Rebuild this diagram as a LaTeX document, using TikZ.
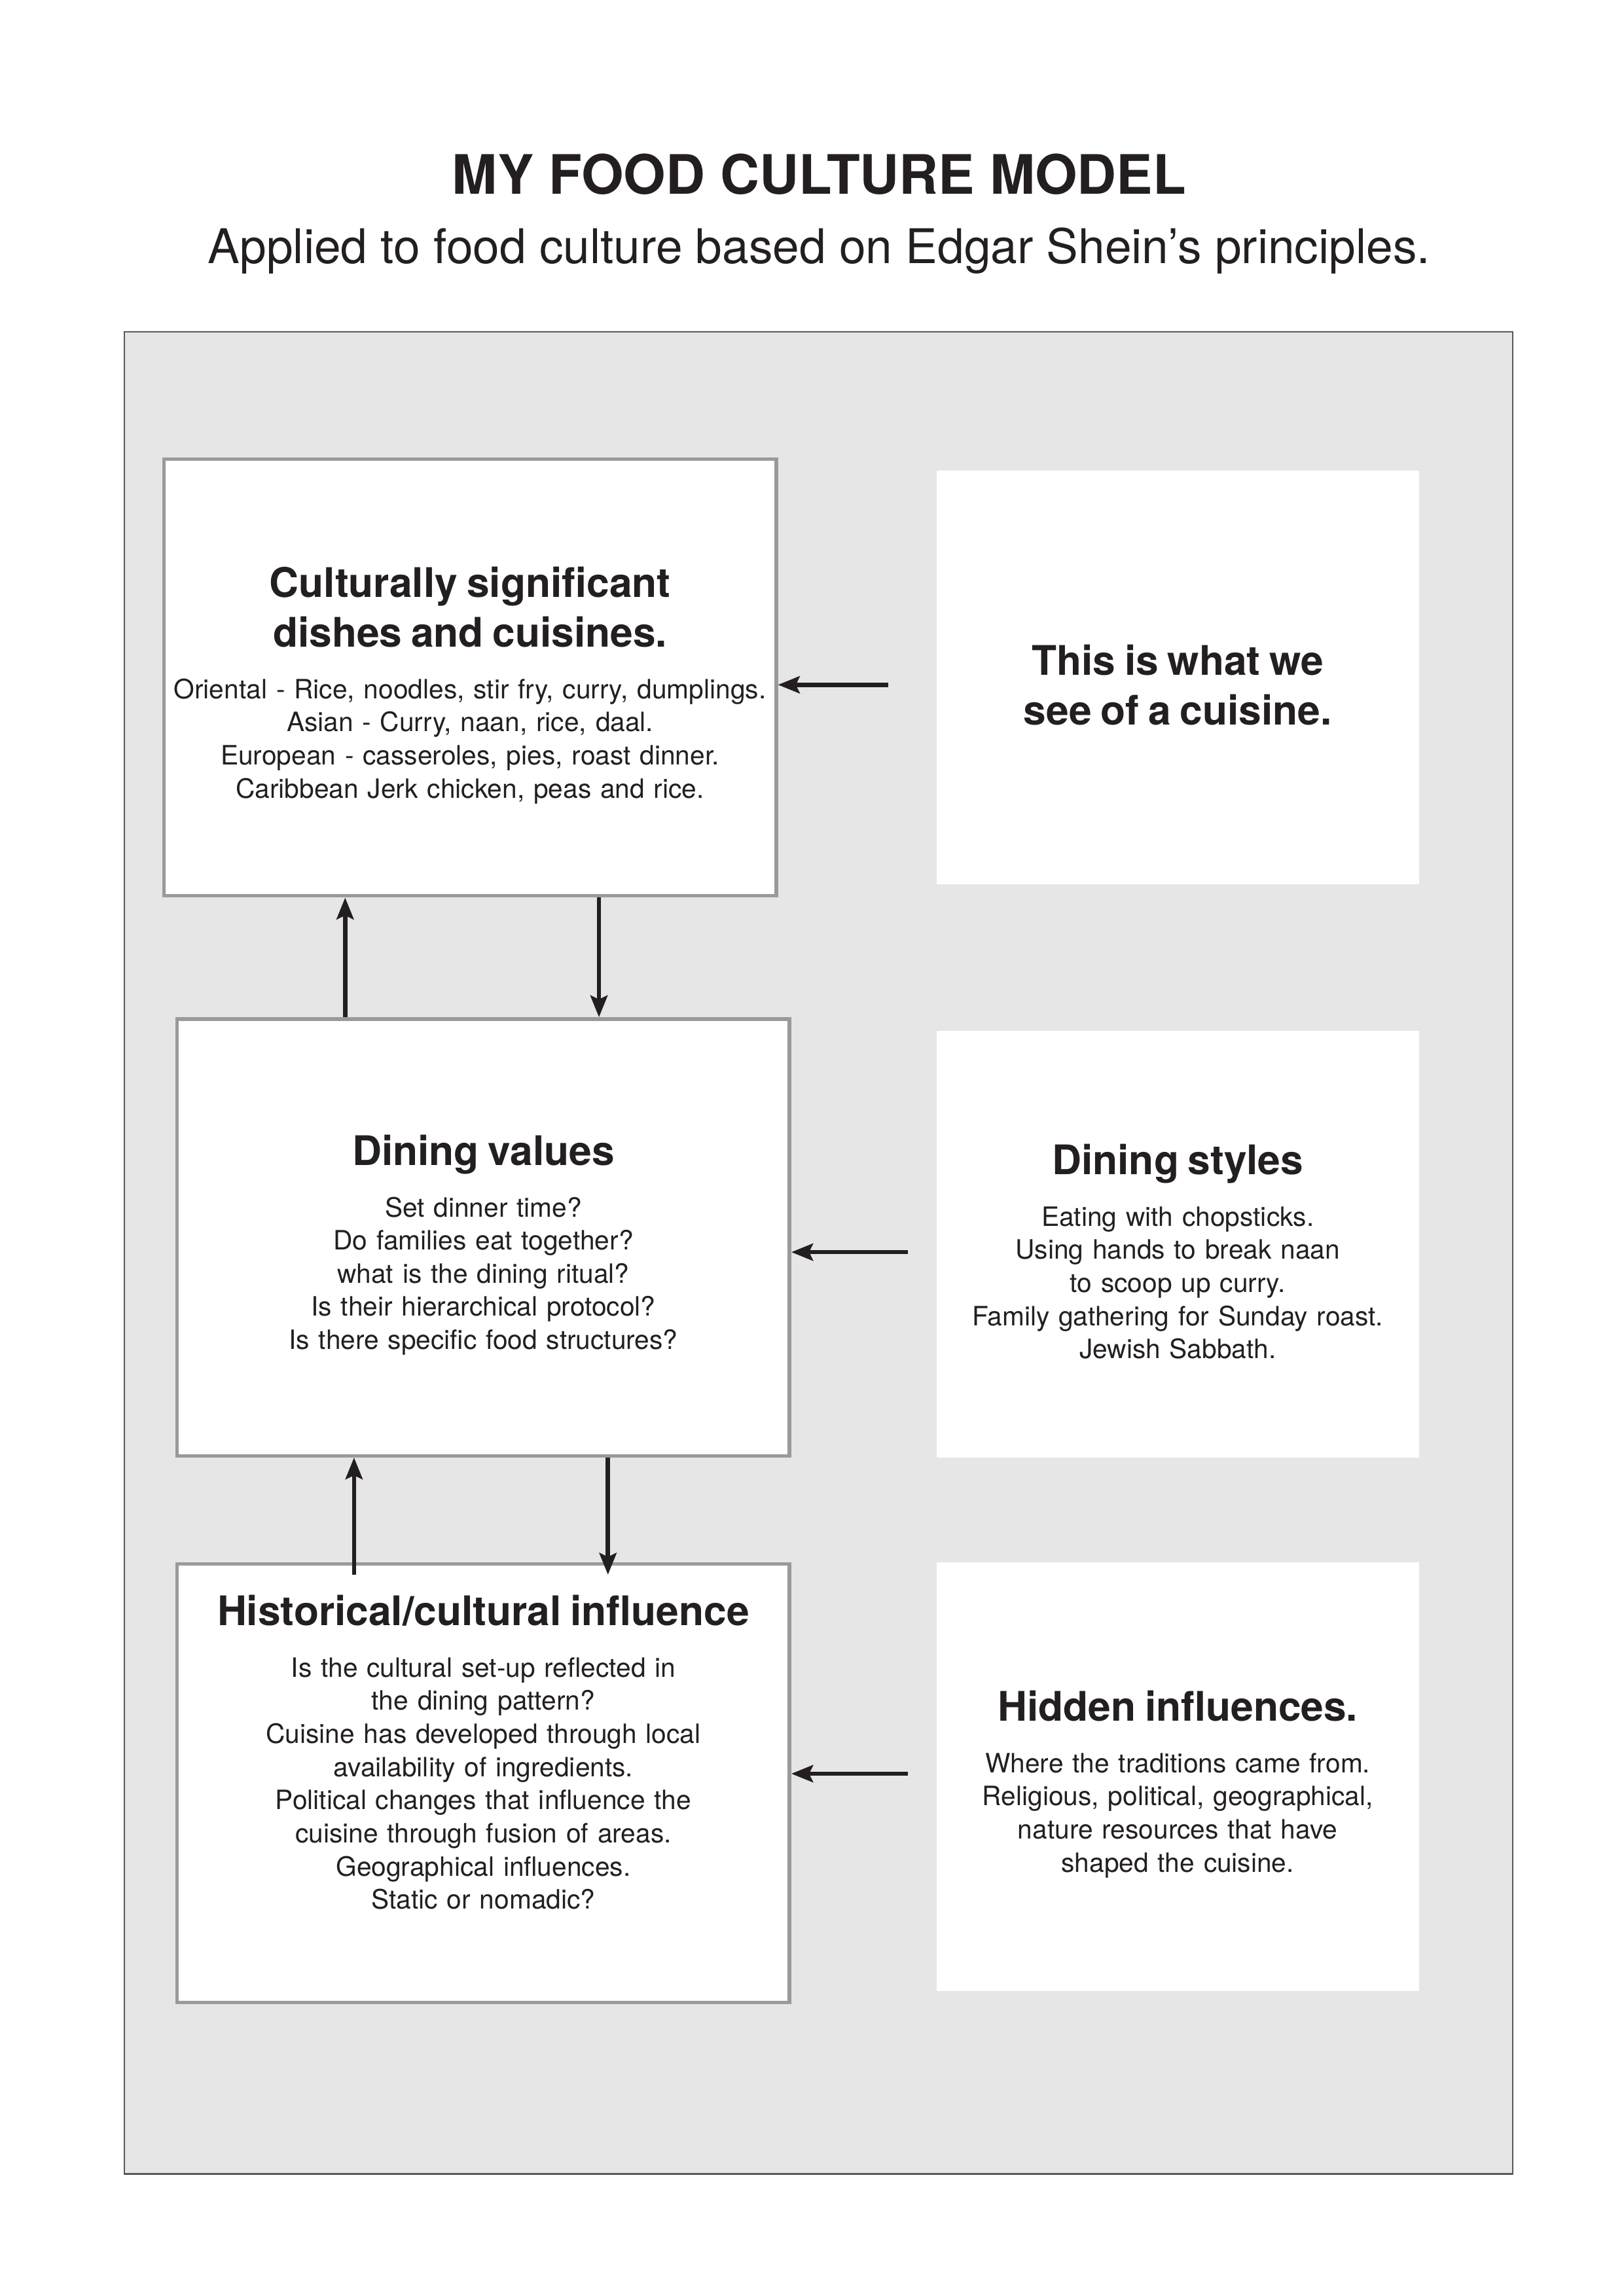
\documentclass[tikz,border=0pt]{standalone}
\usepackage{fontspec}
\setmainfont{TeX Gyre Heros}
\usepackage{xcolor}
\usetikzlibrary{arrows.meta,positioning}
\definecolor{ink}{HTML}{231F20}
\definecolor{panelgrey}{HTML}{E6E6E6}
\definecolor{framegrey}{HTML}{9A9A9A}
\newcommand{\boxhead}{\fontsize{15}{18.4}\selectfont\bfseries}
\newcommand{\boxbody}{\fontsize{9.8}{12.2}\selectfont}
\newcommand{\boxtail}{\par\vspace*{-2mm}}

\begin{document}
\begin{tikzpicture}[x=1mm,y=1mm]
        \tikzstyle{cell}=[rectangle, draw=framegrey, line width=1.3pt, fill=white, text=ink, inner xsep=0.1mm, inner ysep=0pt, text width=79mm, align=center, minimum height=56.5mm, execute at end node=\boxtail]
        \tikzstyle{note}=[rectangle, fill=white, text=ink, inner xsep=1.2mm, inner ysep=0pt, text width=60mm, align=center, execute at end node=\boxtail]
        \tikzstyle{connect}=[-{Stealth[length=2.8mm,width=2.2mm,inset=0.5mm]}, line width=1.6pt, draw=ink]
        \useasboundingbox (0,0) rectangle (210,-297);
        % heading
        \node[text=ink, font=\fontsize{20}{24}\selectfont\bfseries] (title) at (105.95,-22.5) {MY FOOD CULTURE MODEL};
        \node[text=ink, font=\fontsize{17.6}{21}\selectfont] (subtitle) at (105.95,-32.45) {Applied to food culture based on Edgar Shein’s principles.};
        \node[draw=black!65, line width=0.5pt, fill=panelgrey, minimum width=179.6mm, minimum height=238.25mm, inner sep=0pt] (panel) at (105.86,-162.08) {};
        % left column
        \node[cell] (dishes) at (60.8,-87.63) {{\boxhead Culturally significant\\dishes and cuisines.\par}\vspace{6.7pt}{\boxbody Oriental - Rice, noodles, stir fry, curry, dumplings.\\Asian - Curry, naan, rice, daal.\\European - casseroles, pies, roast dinner.\\Caribbean Jerk chicken, peas and rice.\par}};
        \node[cell] (values) [below=15.47mm of dishes, xshift=1.72mm] {{\boxhead Dining values\par}\vspace{6.7pt}{\boxbody Set dinner time?\\Do families eat together?\\what is the dining ritual?\\Is their hierarchical protocol?\\Is there specific food structures?\par}};
        \node[cell, minimum height=56.7mm] (history) [below=13.56mm of values] {{\boxhead Historical/cultural influence\par}\vspace{6.7pt}{\boxbody Is the cultural set-up reflected in\\the dining pattern?\\Cuisine has developed through local\\availability of ingredients.\\Political changes that influence the\\cuisine through fusion of areas.\\Geographical influences.\\Static or nomadic?\par}\vspace*{10mm}};
        % right column
        \node[note, minimum height=53.45mm] (seen) [right=20.43mm of dishes] {{\boxhead This is what we\\see of a cuisine.\par}};
        \node[note, minimum height=55.2mm] (styles) [right=18.71mm of values, yshift=-0.86mm] {{\boxhead Dining styles\par}\vspace{6.7pt}{\boxbody Eating with chopsticks.\\Using hands to break naan\\to scoop up curry.\\Family gathering for Sunday roast.\\Jewish Sabbath.\par}};
        \node[note, minimum height=55.4mm] (hidden) [right=18.71mm of history, yshift=0.86mm] {{\boxhead Hidden influences.\par}\vspace{6.7pt}{\boxbody Where the traditions came from.\\Religious, political, geographical,\\nature resources that have\\shaped the cuisine.\par}};
        % connectors
        \coordinate (seenin) at ([xshift=-6.2mm, yshift=-0.95mm]seen.west);
        \coordinate (stylesin) at ([xshift=-3.6mm, yshift=-1.05mm]styles.west);
        \coordinate (hiddenin) at ([xshift=-3.6mm, yshift=0.38mm]hidden.west);
        \coordinate (upA) at ([xshift=21.95mm]values.north west);
        \coordinate (downA) at ([xshift=56.5mm]dishes.south west);
        \coordinate (upB) at ([xshift=23.1mm, yshift=-1.6mm]history.north west);
        \coordinate (downB) at ([xshift=55.94mm]values.south west);
        \coordinate (downBend) at (downB |- history.north);
        \path (seenin) edge [connect] (seenin -| dishes.east)
        (stylesin) edge [connect] (stylesin -| values.east)
        (hiddenin) edge [connect] (hiddenin -| history.east)
        (upA) edge [connect] (upA |- dishes.south)
        (downA) edge [connect] (downA |- values.north)
        (upB) edge [connect] (upB |- values.south)
        (downB) edge [connect] ([yshift=-1.6mm]downBend);
\end{tikzpicture}
\end{document}
